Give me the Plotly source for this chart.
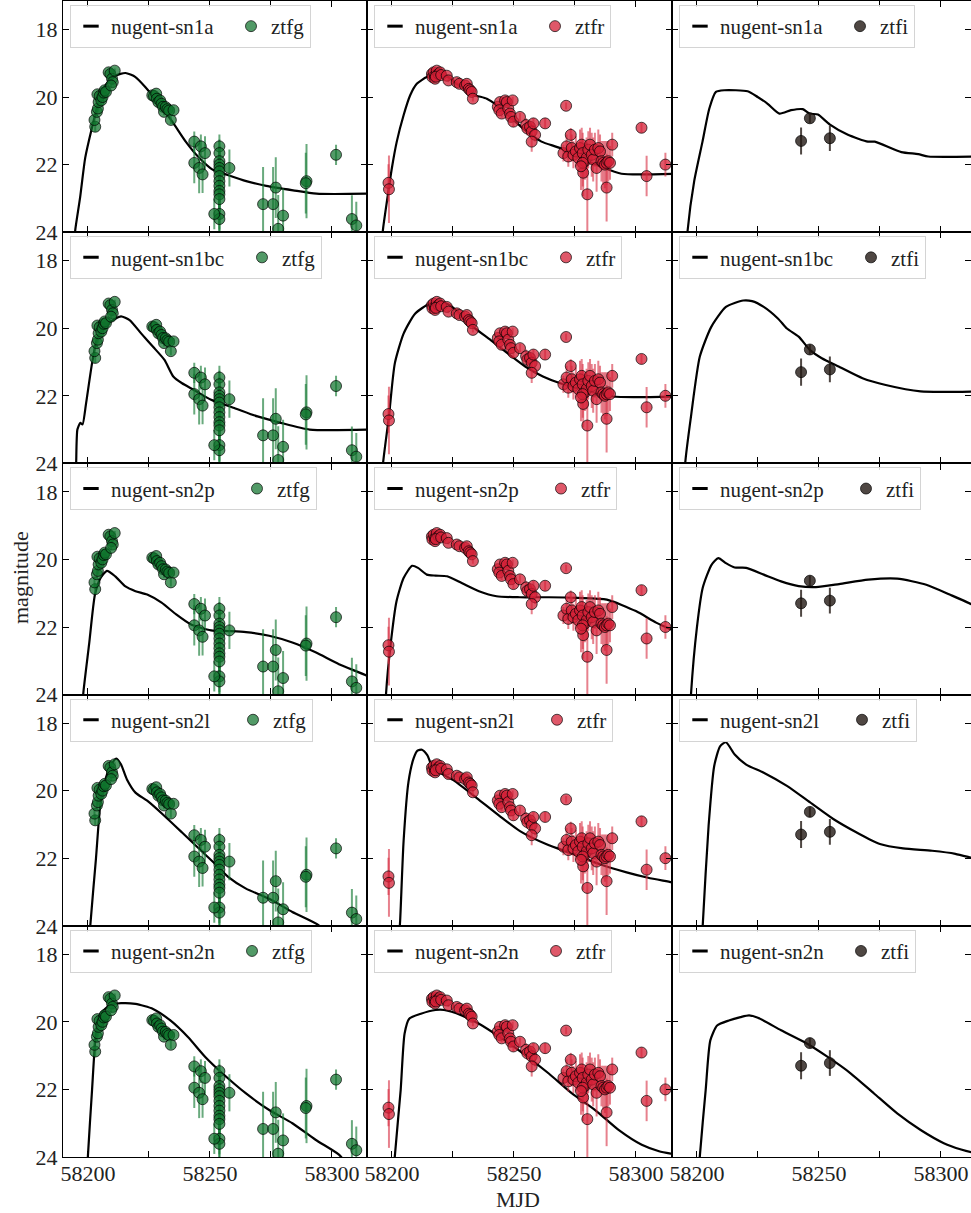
import plotly.graph_objects as go
from plotly.subplots import make_subplots

# ---------------- data ----------------
MODELS = ["nugent-sn1a", "nugent-sn1bc", "nugent-sn2p", "nugent-sn2l", "nugent-sn2n"]
BANDS = ["ztfg", "ztfr", "ztfi"]
X_TICKS = [58200, 58225, 58250, 58275, 58300]
X_TICK_TEXT = ["58200", "", "58250", "", "58300"]
Y_TICKS = [18, 20, 22, 24]

# ztfg photometry
G_MJD = [58203.0, 58202.7, 58203.7, 58204.1, 58204.4, 58203.9, 58204.8, 58205.5, 58206.0, 58206.5,
         58206.9, 58207.4, 58208.5, 58209.2, 58209.9, 58210.2, 58211.0, 58209.5,
         58226.4, 58227.1, 58228.0, 58228.3, 58228.9, 58229.6, 58230.2, 58230.8, 58231.2, 58231.9,
         58232.6, 58233.3, 58234.0, 58235.1,
         58243.6, 58243.6, 58245.6, 58246.3, 58247.0, 58248.0,
         58253.9, 58253.9, 58253.9, 58253.9, 58253.9, 58253.9, 58253.9, 58253.9, 58253.9, 58253.9,
         58253.9, 58253.9, 58253.9, 58253.9, 58251.8, 58258.0,
         58271.8, 58275.9, 58277.0, 58278.0, 58280.0, 58289.6, 58289.3, 58301.7, 58308.2, 58310.0]
G_MAG = [20.88, 20.68, 20.44, 20.34, 20.15, 19.92, 19.97, 20.10, 20.00, 19.87,
         19.80, 19.85, 19.27, 19.32, 19.46, 19.56, 19.22, 19.66,
         19.95, 19.97, 19.90, 20.05, 20.15, 20.10, 20.20, 20.29, 20.44, 20.30,
         20.36, 20.40, 20.68, 20.39,
         21.32, 21.95, 22.10, 21.46, 22.29, 21.66,
         21.46, 21.66, 21.90, 22.00, 22.10, 22.20, 22.34, 22.49, 22.63, 22.78,
         22.88, 23.02, 23.46, 23.61, 23.46, 22.10,
         23.17, 23.17, 22.68, 23.90, 23.51, 22.49, 22.55, 21.71, 23.61, 23.80]
G_ERR = [0.15, 0.15, 0.12, 0.10, 0.10, 0.10, 0.08, 0.10, 0.08, 0.08,
         0.08, 0.08, 0.07, 0.07, 0.07, 0.07, 0.06, 0.08,
         0.06, 0.06, 0.06, 0.07, 0.07, 0.07, 0.08, 0.08, 0.10, 0.08,
         0.10, 0.10, 0.12, 0.10,
         0.30, 0.60, 0.75, 0.35, 0.55, 0.50,
         0.35, 0.40, 0.45, 0.55, 0.60, 0.65, 0.70, 0.75, 0.80, 0.85,
         0.85, 0.90, 0.90, 0.90, 0.45, 0.55,
         1.10, 1.10, 0.90, 1.00, 0.80, 1.10, 0.90, 0.30, 0.70, 0.70]

# ztfr photometry
R_MJD = [58198.6, 58198.8,
         58216.4, 58216.6, 58217.1, 58217.7, 58217.7, 58218.4, 58219.1, 58219.8, 58218.0, 58220.2,
         58222.5, 58223.2, 58226.6, 58227.7, 58230.0, 58230.7, 58231.5, 58232.1, 58232.7, 58233.2,
         58243.4, 58244.3, 58244.0, 58245.0, 58246.4, 58247.1, 58247.7, 58248.4, 58249.5, 58248.8,
         58249.8, 58252.5, 58255.0, 58255.5, 58256.6, 58257.3, 58258.0, 58258.7, 58257.3, 58262.8,
         58271.4, 58273.3,
         58270.3, 58271.6, 58272.3, 58273.7, 58274.4, 58275.4, 58276.4, 58277.1, 58277.8, 58278.2,
         58278.4, 58279.1, 58279.8, 58280.1, 58280.5, 58281.2, 58281.9, 58282.5, 58283.2, 58283.9,
         58284.6, 58285.3, 58285.9, 58286.6, 58287.3, 58288.0, 58288.0, 58288.7, 58289.4, 58290.3,
         58278.2, 58277.5,
         58302.3, 58304.4, 58312.1]
R_MAG = [22.54, 22.73,
         19.32, 19.41, 19.27, 19.37, 19.46, 19.22, 19.32, 19.27, 19.40, 19.35,
         19.37, 19.51, 19.56, 19.61, 19.66, 19.61, 19.76, 19.80, 19.85, 20.05,
         20.29, 20.15, 20.39, 20.49, 20.10, 20.15, 20.34, 20.49, 20.10, 20.59,
         20.73, 20.59, 20.83, 20.93, 20.88, 21.02, 20.78, 21.12, 21.32, 20.78,
         20.26, 21.12,
         21.66, 21.46, 21.76, 21.51, 21.71, 21.61, 21.80, 21.51, 21.41, 21.66,
         22.24, 21.90, 21.80, 22.88, 21.56, 21.41, 21.71, 21.85, 21.56, 22.10,
         21.51, 21.61, 21.90, 21.95, 22.00, 21.95, 22.68, 21.90, 21.95, 21.41,
         21.95, 22.05,
         20.91, 22.34, 22.00]
R_ERR = [0.55, 1.00,
         0.05, 0.05, 0.05, 0.05, 0.05, 0.05, 0.05, 0.05, 0.05, 0.05,
         0.05, 0.05, 0.05, 0.05, 0.05, 0.05, 0.06, 0.06, 0.06, 0.08,
         0.10, 0.08, 0.10, 0.12, 0.08, 0.10, 0.12, 0.12, 0.10, 0.15,
         0.15, 0.12, 0.20, 0.20, 0.15, 0.20, 0.15, 0.20, 0.30, 0.15,
         0.10, 0.20,
         0.25, 0.35, 0.30, 0.40, 0.40, 0.45, 0.40, 0.55, 0.50, 0.60,
         0.70, 0.55, 0.60, 1.20, 0.55, 0.50, 0.65, 0.65, 0.50, 0.70,
         0.55, 0.50, 0.60, 0.65, 0.70, 0.65, 1.00, 0.60, 0.50, 0.35,
         0.70, 0.70,
         0.15, 0.60, 0.35]

# ztfi photometry
I_MJD = [58242.7, 58246.3, 58254.5]
I_MAG = [21.30, 20.63, 21.22]
I_ERR = [0.40, 0.15, 0.38]

# model light curves (MJD, magnitude)
SN1A_G_T = [58194.3, 58194.8, 58196.8, 58198.9, 58201.6, 58204.4, 58207.1, 58211.3, 58215.4, 58219.5, 58223.6,
            58229.1, 58234.6, 58240.1, 58245.6, 58251.1, 58256.6, 58264.9, 58273.1, 58284.1, 58293.7, 58316]
SN1A_G_M = [24.5, 23.95, 22.98, 21.80, 20.93, 20.15, 19.66, 19.37, 19.29, 19.41, 19.71,
            20.20, 20.73, 21.32, 21.80, 22.15, 22.29, 22.49, 22.63, 22.76, 22.86, 22.86]
SN1A_R_T = [58195.8, 58196.3, 58198.0, 58200.0, 58202.0, 58204.8, 58207.5, 58210.2, 58214.3, 58217.1, 58222.5,
            58226.6, 58233.4, 58238.9, 58243.0, 58248.4, 58255.3, 58261.3, 58268.9, 58277.1, 58285.3, 58294.1, 58316]
SN1A_R_M = [24.5, 23.95, 23.07, 22.10, 21.32, 20.54, 19.95, 19.61, 19.41, 19.37, 19.39,
            19.61, 19.93, 20.05, 20.24, 20.59, 21.02, 21.32, 21.51, 21.80, 22.05, 22.27, 22.27]
SN1A_I_T = [58195.8, 58196.2, 58198.9, 58202.3, 58205.1, 58207.8, 58211.2, 58220.8, 58224.9, 58229.0, 58233.8,
            58238.6, 58243.4, 58246.2, 58249.6, 58254.4, 58261.9, 58270.1, 58272.9, 58283.8, 58290.7, 58294.8, 58316]
SN1A_I_M = [24.5, 23.95, 22.49, 21.32, 20.34, 19.85, 19.80, 19.83, 20.00, 20.20, 20.49,
            20.39, 20.36, 20.49, 20.52, 20.81, 21.12, 21.32, 21.32, 21.63, 21.69, 21.76, 21.76]

SN1BC_G_T = [58195.0, 58195.2, 58195.7, 58196.9, 58197.8, 58199.3, 58201.7, 58204.0, 58207.6, 58211.2, 58213.6,
             58217.1, 58221.9, 58226.7, 58231.4, 58235.0, 58238.6, 58243.3, 58250.5, 58260.0, 58269.5, 58279.0,
             58290.9, 58316]
SN1BC_G_M = [24.5, 23.98, 23.00, 22.80, 22.85, 22.20, 21.04, 20.25, 19.91, 19.72, 19.65,
             19.76, 20.16, 20.55, 20.94, 21.43, 21.63, 21.82, 22.12, 22.36, 22.61, 22.80,
             23.00, 23.00]
SN1BC_R_T = [58196.0, 58196.4, 58198.8, 58201.2, 58204.8, 58209.5, 58215.5, 58220.2, 58223.8, 58228.6, 58233.3,
             58240.5, 58247.6, 58254.8, 58261.9, 58269.0, 58278.6, 58290.5, 58316]
SN1BC_R_M = [24.5, 23.98, 22.60, 21.04, 20.16, 19.57, 19.27, 19.23, 19.32, 19.62, 19.96,
             20.35, 20.75, 21.14, 21.43, 21.63, 21.82, 22.02, 22.02]
SN1BC_I_T = [58194.9, 58195.2, 58197.6, 58201.2, 58205.9, 58211.9, 58219.0, 58222.6, 58227.4, 58233.3, 58236.9,
             58241.7, 58246.4, 58251.2, 58258.3, 58267.9, 58277.4, 58291.7, 58316]
SN1BC_I_M = [24.5, 24.0, 22.60, 20.84, 19.96, 19.37, 19.18, 19.20, 19.37, 19.72, 20.01,
             20.25, 20.65, 20.89, 21.14, 21.48, 21.68, 21.87, 21.87]

SN2P_G_T = [58197.8, 58198.1, 58200.5, 58202.9, 58205.2, 58207.8, 58211.2, 58215.4, 58219.5, 58224.3, 58230.2,
            58236.2, 58242.1, 58250.5, 58257.6, 58264.8, 58274.3, 58283.8, 58293.3, 58302.9, 58314.3, 58317]
SN2P_G_M = [24.5, 23.98, 22.51, 21.04, 20.55, 20.34, 20.50, 20.80, 20.94, 21.04, 21.28,
            21.63, 21.92, 22.10, 22.12, 22.15, 22.26, 22.46, 22.75, 23.10, 23.44, 23.55]
SN2P_R_T = [58197.3, 58197.6, 58199.5, 58201.9, 58204.8, 58208.3, 58210.7, 58214.3, 58217.9, 58222.6, 58228.6,
            58235.7, 58242.9, 58252.4, 58264.3, 58276.2, 58288.1, 58300.0, 58308.3, 58314.3, 58317]
SN2P_R_M = [24.5, 23.98, 22.51, 21.24, 20.55, 20.19, 20.25, 20.45, 20.48, 20.50, 20.70,
            20.94, 21.09, 21.12, 21.12, 21.14, 21.19, 21.53, 21.87, 22.07, 22.20]
SN2P_I_T = [58197.3, 58197.6, 58200.0, 58202.4, 58206.0, 58208.8, 58211.9, 58215.5, 58220.2, 58227.4, 58234.5,
            58241.7, 58248.8, 58258.3, 58270.2, 58282.1, 58294.0, 58303.6, 58312.6, 58316]
SN2P_I_M = [24.5, 23.98, 22.02, 20.84, 20.16, 19.96, 20.11, 20.24, 20.25, 20.45, 20.65,
            20.79, 20.82, 20.73, 20.60, 20.57, 20.75, 21.04, 21.33, 21.50]

SN2L_G_T = [58200.7, 58201.0, 58203.3, 58205.2, 58207.6, 58210.0, 58211.7, 58213.6, 58216.0, 58219.5, 58224.3,
            58231.4, 58238.6, 58245.7, 58252.9, 58257.6, 58264.8, 58274.3, 58283.8, 58294.5, 58297.0]
SN2L_G_M = [24.5, 23.98, 22.02, 20.35, 19.57, 19.18, 19.05, 19.23, 19.67, 20.06, 20.30,
            20.75, 21.24, 21.73, 22.22, 22.56, 22.90, 23.20, 23.59, 23.98, 24.20]
SN2L_R_T = [58202.8, 58203.4, 58204.8, 58206.8, 58208.9, 58210.5, 58212.3, 58214.5, 58217.0, 58225.2, 58234.8,
            58244.3, 58252.5, 58263.4, 58274.4, 58285.3, 58296.2, 58305.0, 58314.6, 58317.0]
SN2L_R_M = [24.5, 23.83, 21.49, 19.74, 19.05, 18.82, 18.79, 18.95, 19.35, 19.69, 20.22,
            20.76, 21.20, 21.59, 21.88, 22.18, 22.42, 22.58, 22.71, 22.75]
SN2L_I_T = [58202.1, 58202.4, 58204.8, 58207.1, 58209.5, 58211.9, 58215.5, 58220.2, 58227.4, 58236.9, 58246.4,
            58255.9, 58265.5, 58275.0, 58284.5, 58296.4, 58305.9, 58312.6, 58316.0]
SN2L_I_M = [24.5, 23.98, 21.04, 19.27, 18.69, 18.57, 18.93, 19.23, 19.47, 19.86, 20.35,
            20.84, 21.24, 21.58, 21.71, 21.78, 21.87, 21.99, 22.05]

SN2N_G_T = [58199.7, 58200.0, 58201.7, 58203.3, 58205.2, 58208.8, 58213.6, 58219.5, 58226.7, 58233.8, 58241.0,
            58248.1, 58255.2, 58264.8, 58274.3, 58283.8, 58293.3, 58302.9, 58306.0]
SN2N_G_M = [24.5, 23.98, 22.02, 20.35, 19.76, 19.52, 19.45, 19.47, 19.62, 19.96, 20.45,
            21.04, 21.53, 22.12, 22.61, 23.00, 23.49, 23.93, 24.20]
SN2N_R_T = [58200.9, 58201.2, 58203.6, 58205.2, 58207.1, 58211.9, 58217.9, 58221.4, 58228.6, 58235.7, 58245.2,
            58254.8, 58264.3, 58273.8, 58283.3, 58292.9, 58302.4, 58309.5, 58314.3, 58317.0]
SN2N_R_M = [24.5, 23.98, 22.02, 20.35, 19.91, 19.76, 19.65, 19.65, 19.81, 20.06, 20.50,
            20.99, 21.53, 22.12, 22.61, 23.20, 23.64, 23.83, 23.90, 23.93]
SN2N_I_T = [58200.9, 58201.2, 58203.6, 58205.5, 58208.3, 58213.1, 58217.9, 58221.4, 58225.0, 58234.5, 58244.0,
            58253.6, 58263.1, 58272.6, 58282.1, 58291.7, 58301.2, 58308.3, 58312.6, 58316.0]
SN2N_I_M = [24.5, 23.98, 22.02, 20.55, 20.11, 19.96, 19.86, 19.81, 19.88, 20.25, 20.60,
            21.04, 21.53, 22.12, 22.71, 23.20, 23.59, 23.78, 23.86, 23.90]

MODEL_CURVES = {
    "nugent-sn1a": [(SN1A_G_T, SN1A_G_M), (SN1A_R_T, SN1A_R_M), (SN1A_I_T, SN1A_I_M)],
    "nugent-sn1bc": [(SN1BC_G_T, SN1BC_G_M), (SN1BC_R_T, SN1BC_R_M), (SN1BC_I_T, SN1BC_I_M)],
    "nugent-sn2p": [(SN2P_G_T, SN2P_G_M), (SN2P_R_T, SN2P_R_M), (SN2P_I_T, SN2P_I_M)],
    "nugent-sn2l": [(SN2L_G_T, SN2L_G_M), (SN2L_R_T, SN2L_R_M), (SN2L_I_T, SN2L_I_M)],
    "nugent-sn2n": [(SN2N_G_T, SN2N_G_M), (SN2N_R_T, SN2N_R_M), (SN2N_I_T, SN2N_I_M)],
}
PHOT = [(G_MJD, G_MAG, G_ERR), (R_MJD, R_MAG, R_ERR), (I_MJD, I_MAG, I_ERR)]

# ---------------- styling ----------------
FONT = "Liberation Serif"
W, H = 971, 1213
ML, MR, MT, MB = 63, 0, 1, 56
PW = W - ML - MR
PH = H - MT - MB
COL_PX = [(0, 304), (304, 609), (609, 908)]
PX_PER_DAY = 2.44
X0 = 58189.8
MARKER_FILL = ["rgba(15,115,45,0.72)", "rgba(212,32,55,0.75)", "rgba(35,25,20,0.8)"]
ERR_COL = ["rgba(25,125,55,0.65)", "rgba(215,45,65,0.6)", "rgba(35,25,20,0.8)"]
LEGEND_W = {"nugent-sn1a": 115, "nugent-sn1bc": 126, "nugent-sn2p": 121,
            "nugent-sn2l": 117, "nugent-sn2n": 116}

fig = make_subplots(rows=5, cols=3, horizontal_spacing=0, vertical_spacing=0)

row_h = PH / 5.0
for r, model in enumerate(MODELS):
    for c, band in enumerate(BANDS):
        idx = r * 3 + c + 1
        lg = "legend" if idx == 1 else f"legend{idx}"
        xa = "x" if idx == 1 else f"x{idx}"
        ya = "y" if idx == 1 else f"y{idx}"
        t, m = MODEL_CURVES[model][c]
        fig.add_trace(go.Scatter(x=t, y=m, mode="lines",
                                 line=dict(color="black", width=2.2, shape="spline", smoothing=0.6),
                                 showlegend=False, hoverinfo="skip", xaxis=xa, yaxis=ya))
        fig.add_trace(go.Scatter(x=[None], y=[None], mode="markers", name=model,
                                 marker=dict(symbol="line-ew", size=11, line=dict(width=3, color="black")),
                                 legend=lg, legendwidth=LEGEND_W[model], xaxis=xa, yaxis=ya))
        bx, by, be = PHOT[c]
        fig.add_trace(go.Scatter(x=bx, y=by, mode="markers", name=band,
                                 error_y=dict(type="data", array=be, color=ERR_COL[c], thickness=2, width=0),
                                 marker=dict(size=11, color=MARKER_FILL[c],
                                             line=dict(width=0.8, color="rgba(0,0,0,0.85)")),
                                 legend=lg, xaxis=xa, yaxis=ya))
        x_lo, x_hi = COL_PX[c]
        xkey = "xaxis" if idx == 1 else f"xaxis{idx}"
        ykey = "yaxis" if idx == 1 else f"yaxis{idx}"
        fig.layout[xkey].update(domain=[x_lo / PW, x_hi / PW],
                                range=[X0, X0 + (x_hi - x_lo) / PX_PER_DAY],
                                tickvals=X_TICKS, ticktext=X_TICK_TEXT,
                                showticklabels=(r == 4))
        y_top = r * row_h
        y_bot = (r + 1) * row_h
        fig.layout[ykey].update(domain=[1 - y_bot / PH, 1 - y_top / PH],
                                range=[24, 24 - row_h / 33.8],
                                tickvals=Y_TICKS, showticklabels=(c == 0))
        fig.layout[lg] = dict(
            x=(x_lo + 7) / PW, y=1 - (y_top + 4) / PH, xanchor="left", yanchor="top",
            orientation="h", bgcolor="rgba(255,255,255,0.85)", bordercolor="#d4d4d4", borderwidth=1,
            font=dict(family=FONT, size=21, color="#222"), itemwidth=30, tracegroupgap=0,
        )

axis_style = dict(showline=True, linecolor="black", linewidth=1.3, mirror="ticks", ticks="inside",
                  ticklen=6, tickwidth=1.2, tickcolor="black", showgrid=False, zeroline=False,
                  tickfont=dict(family=FONT, size=22, color="#222"))
fig.update_xaxes(ticklabelstandoff=-4, **axis_style)
fig.update_yaxes(**axis_style)

fig.add_annotation(text="magnitude", xref="paper", yref="paper", x=(20 - ML) / PW, y=1 - (578 - MT) / PH,
                   textangle=-90, showarrow=False, font=dict(family=FONT, size=22, color="#222"),
                   xanchor="center", yanchor="middle")
fig.add_annotation(text="MJD", xref="paper", yref="paper", x=(518 - ML) / PW, y=-(1199 - MT - PH) / PH,
                   showarrow=False, font=dict(family=FONT, size=22, color="#222"),
                   xanchor="center", yanchor="middle")

fig.update_layout(width=W, height=H, autosize=False, margin=dict(l=ML, r=MR, t=MT, b=MB),
                  plot_bgcolor="white", paper_bgcolor="white", font=dict(family=FONT))

fig.write_html("out.html", config={"displayModeBar": False},
               post_script="document.body.style.margin='0px';document.body.style.overflow='hidden';")
